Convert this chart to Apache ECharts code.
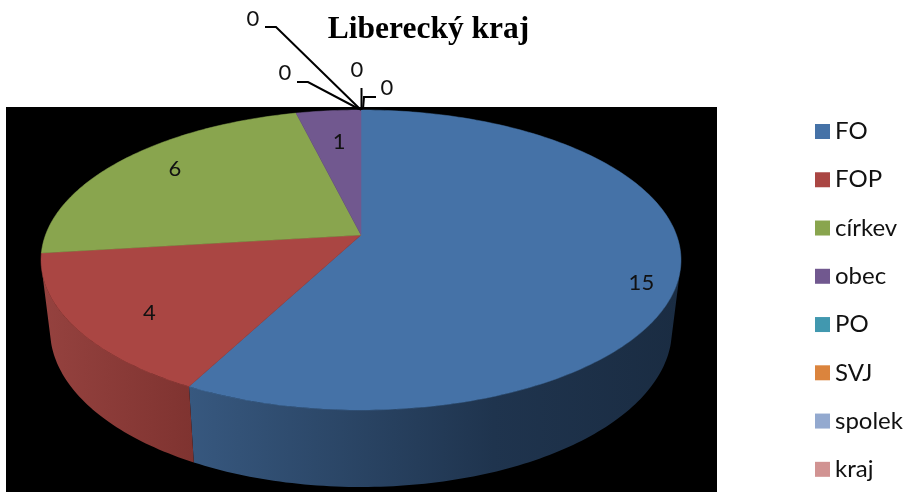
<!DOCTYPE html>
<html><head><meta charset="utf-8">
<style>html,body{margin:0;padding:0;background:#fff}#c{width:909px;height:492px}</style>
<script src="https://cdn.jsdelivr.net/npm/echarts@6/dist/echarts.min.js"></script>
</head><body><div id="c"></div>
<script>
const categories = ['FO','FOP','církev','obec','PO','SVJ','spolek','kraj'];
const values = [15,4,6,1,0,0,0,0];
const colors = ['#4572A7','#AA4643','#89A54E','#71588F','#4198AF','#DB843D','#93A9CF','#D19392'];
const sideColors = [['#37587f','#1a2c42'],['#95423f','#7f3330']];

// projection of the tilted pie
const APEX_X=361, APEX_Y=235, R=315.5, PERSP=1/6, TILT=106.67;
const SIDE_SCALE=0.972, SIDE_DROP_BASE=68, SIDE_DROP_FRONT=9;
function topPt(deg,r){
  const a=deg*Math.PI/180, u=r*Math.sin(a), v=r*Math.cos(a), d=1+PERSP*v;
  return [APEX_X+R*u/d,(APEX_Y-TILT*v)/d];
}
function botPt(deg){
  const p=topPt(deg,1), v=Math.cos(deg*Math.PI/180);
  return [APEX_X+(p[0]-APEX_X)*SIDE_SCALE,p[1]+SIDE_DROP_BASE-SIDE_DROP_FRONT*v];
}
const total=values.reduce((a,b)=>a+b,0);
const starts=[];values.reduce((acc,v,i)=>{starts[i]=acc;return acc+v;},0);
const deg=x=>x/total*360;
const SIDE_FROM=104.5, SIDE_TO=255.5;
const labelR=[0.88,0.76,0.72,0.8];
const labelShift=[[1,16],[1,10],[-11,-10],[5,9]];

function arc(a,b,fn){const n=Math.max(2,Math.ceil(Math.abs(b-a)));const out=[];for(let i=0;i<=n;i++)out.push(fn(a+(b-a)*i/n));return out;}

function renderSlice(idx){
  return function(){
    const v=values[idx];
    if(!v) return {type:'group',children:[]};
    const a0=deg(starts[idx]),a1=deg(starts[idx]+v);
    const kids=[];
    const sa=Math.max(a0,SIDE_FROM),sb=Math.min(a1,SIDE_TO);
    if(sb>sa){
      const pts=arc(sa,sb,d=>topPt(d,1)).concat(arc(sb,sa,botPt));
      const sc=sideColors[idx];
      kids.push({type:'polygon',z2:1,shape:{points:pts},
        style:{fill:new echarts.graphic.LinearGradient(0,0,1,0,
          idx===0?[{offset:0,color:sc[0]},{offset:0.62,color:'#1f344e'},{offset:1,color:sc[1]}]
                 :[{offset:0,color:sc[0]},{offset:1,color:sc[1]}]),stroke:null}});
    }
    kids.push({type:'polygon',z2:2,shape:{points:[topPt(0,0)].concat(arc(a0,a1,d=>topPt(d,1)))},
      style:{fill:colors[idx],stroke:colors[idx],lineWidth:0.5}});
    const mid=(a0+a1)/2,p=topPt(mid,labelR[idx]);
    kids.push({type:'text',z2:3,x:p[0]+labelShift[idx][0],y:p[1]+labelShift[idx][1],
      style:{text:String(v),font:'22px Lato, Carlito, sans-serif',fill:'#111',align:'center',verticalAlign:'middle'}});
    return {type:'group',children:kids};
  };
}

const chart=echarts.init(document.getElementById('c'),null,{renderer:'canvas'});
const zeroLabels=[
  {text:'0',x:253,y:19,line:[[361,110],[276,27],[265,27]]},
  {text:'0',x:285,y:73,line:[[359,109],[308,82],[297,82]]},
  {text:'0',x:357,y:70,line:[[361.5,110],[361.5,88]]},
  {text:'0',x:387,y:88,line:[[363,109],[364,97],[376,97]]}
];
const graphics=[{type:'rect',z:-1,silent:true,shape:{x:6,y:107,width:711,height:385},style:{fill:'#000'}}];
zeroLabels.forEach(l=>{
  graphics.push({type:'polyline',z:10,silent:true,shape:{points:l.line},style:{stroke:'#000',lineWidth:2,fill:null}});
  graphics.push({type:'text',z:10,silent:true,x:l.x,y:l.y,style:{text:l.text,font:'22px Lato, Carlito, sans-serif',fill:'#111',align:'center',verticalAlign:'middle'}});
});
chart.setOption({
  animation:false,
  backgroundColor:'#fff',
  color:colors,
  title:{text:'Liberecký kraj',left:423.5,top:9,textAlign:'center',
    textStyle:{fontFamily:'"Liberation Serif",serif',fontWeight:'bold',fontSize:31.5,color:'#000'}},
  legend:{orient:'vertical',left:810,top:113,itemWidth:15,itemHeight:15,itemGap:21.26,icon:'rect',
    data:categories,selectedMode:false,
    textStyle:{fontFamily:'Lato, Carlito, sans-serif',fontSize:24,color:'#111',padding:[0,0,0,0],lineHeight:27}},
  graphic:graphics,
  series:categories.map((name,i)=>({
    type:'custom',name,coordinateSystem:'none',silent:true,
    itemStyle:{color:colors[i]},
    data:[values[i]],
    renderItem:renderSlice(i)
  }))
});
</script></body></html>
